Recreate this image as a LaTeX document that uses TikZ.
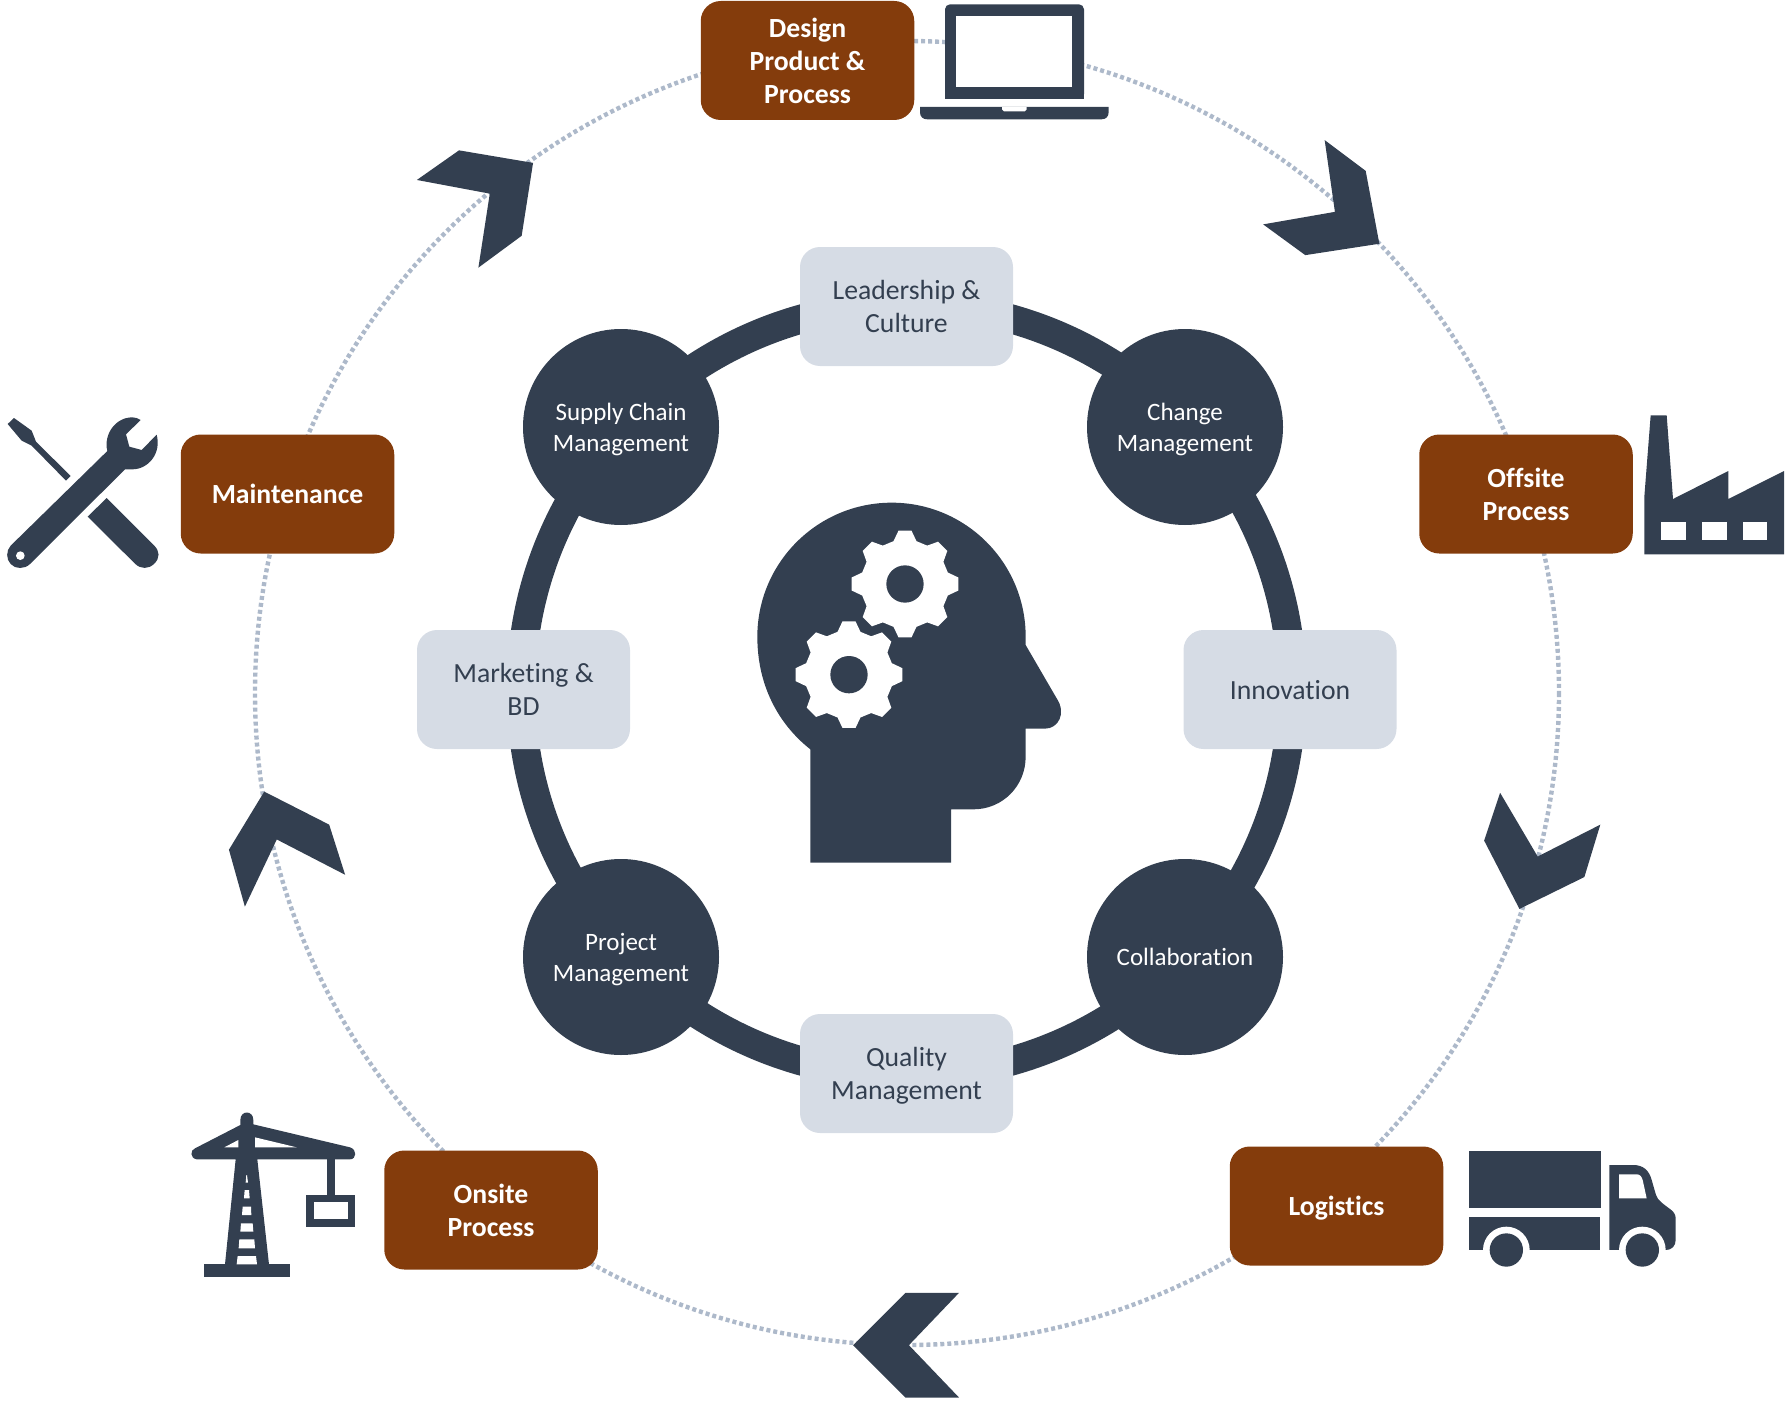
\documentclass[tikz,border=0pt]{standalone}
\usepackage{fontspec}
\setmainfont[Ligatures=NoCommon]{Carlito}
\newcommand{\ls}{\rule[-0.25em]{0pt}{1.19em}}
\definecolor{navy}{HTML}{333F50}
\definecolor{pale}{HTML}{D6DCE5}
\definecolor{dots}{HTML}{ADB9CA}
\definecolor{rust}{HTML}{843C0C}
\tikzset{
  stagebox/.style={draw=none,fill=rust,text=white,rounded corners=20pt,minimum width=213.5pt,minimum height=119pt,inner sep=0pt,align=center,font=\fontsize{27.7}{33}\selectfont\bfseries},
  palebox/.style={draw=none,fill=pale,text=navy,rounded corners=20pt,minimum width=213pt,minimum height=119pt,inner sep=0pt,align=center,font=\fontsize{27.7}{33}\selectfont},
  disc/.style={circle,draw=none,fill=navy,text=white,minimum size=196pt,inner sep=0pt,align=center,font=\fontsize{25}{29.5}\selectfont},
  dotring/.style={draw=dots,line width=4.4pt,dash pattern=on 4pt off 3pt},
  solidring/.style={draw=navy,line width=29pt},
  chevron/.style={fill=navy},
  icon/.style={fill=navy},
  hole/.style={fill=white},
  zoomed/.style={x=0.33333pt,y=-0.33333pt},
  reduced/.style={x=1.139pt,y=-1.139pt},
  gearpic/.pic={
    \fill[hole] (-15:133) \foreach \k in {0,45,...,315}{ -- (\k-15:133) -- (\k-7:161) -- (\k+7:161) -- (\k+15:133)} -- cycle;
    \fill[icon] (0,0) circle (56);
  }
}
\begin{document}
\begin{tikzpicture}[x=1pt,y=-1pt]
\useasboundingbox (0,0) rectangle (1786,1402);
\coordinate (outerc) at (907,693);
\coordinate (innerc) at (906.5,690);
% rings
\draw[dotring] (outerc) circle (652);
\draw[solidring] (innerc) circle (385.5);
% chevrons
\begin{scope}[reduced]
\fill[chevron] (1163,123) -- (1199,150) -- (1211,214) -- (1146,224) -- (1109,197) -- (1172,186) -- cycle;
\fill[chevron] (1317,696) -- (1350,752) -- (1405,724) -- (1391,770) -- (1334,798) -- (1303,738) -- cycle;
\fill[chevron] (842,1135) -- (798,1181) -- (842,1227) -- (795,1227) -- (749,1181) -- (795,1135) -- cycle;
\fill[chevron] (201,746) -- (232,695) -- (289,724) -- (303,768) -- (243,737) -- (215,796) -- cycle;
\fill[chevron] (366,158) -- (403,132) -- (468,143) -- (458,207) -- (420,235) -- (430,170) -- cycle;
\end{scope}
% stage boxes
\node[stagebox] (design) at (807.5,60.5) {\ls Design\\\ls Product \&\\\ls Process};
\node[stagebox] (offsite) at (1526,494) {\ls Offsite\\\ls Process};
\node[stagebox] (logistics) at (1336.5,1206) {\ls Logistics};
\node[stagebox] (onsite) at (491,1210) {\ls Onsite\\\ls Process};
\node[stagebox] (maint) at (287.5,494) {\ls Maintenance};
% discs
\node[disc] (supply) at (621,427) {\ls Supply Chain\\\ls Management};
\node[disc] (change) at (1185,427) {\ls Change\\\ls Management};
\node[disc] (project) at (621,957) {\ls Project\\\ls Management};
\node[disc] (collab) at (1185,957) {\ls Collaboration};
% pale boxes
\node[palebox] (lead) at (906.5,306.5) {\ls Leadership \&\\\ls Culture};
\node[palebox] (market) at (523.5,689.5) {\ls Marketing \&\\\ls BD};
\node[palebox] (innov) at (1290,689.5) {\ls Innovation};
\node[palebox] (quality) at (906.5,1073.5) {\ls Quality\\\ls Management};
% head
\begin{scope}[shift={(740,480)},zoomed]
\fill[icon] (211,1148) -- (211,808) .. controls (110,728) and (52,610) .. (52,470)
  .. controls (52,248) and (233,68) .. (455,68) .. controls (677,68) and (857,248) .. (857,470) -- (857,495)
  -- (950,655) .. controls (980,700) and (955,746) .. (915,746) -- (857,746) -- (857,830)
  .. controls (857,918) and (788,988) .. (700,988) -- (633,988) -- (633,1148) -- cycle;
\pic at (495,312) {gearpic};
\pic at (327,584) {gearpic};
\end{scope}
% laptop
\begin{scope}[shift={(680,0)},zoomed]
\fill[icon,rounded corners=5pt] (795,297) -- (795,13) -- (1212,13) -- (1212,297) -- cycle;
\fill[icon] (795,200) rectangle (1212,297);
\fill[hole] (828,48) rectangle (1175,261);
\fill[icon] (720,321) -- (1286,321) -- (1286,336) .. controls (1286,350) and (1278,358) .. (1264,358) -- (742,358) .. controls (728,358) and (720,350) .. (720,336) -- cycle;
\fill[hole] (966,321) -- (1040,321) -- (1040,328) -- (1034,334) -- (972,334) -- (966,328) -- cycle;
\end{scope}
% tools
\begin{scope}[shift={(0,400)},zoomed]
\fill[icon] (23,72) -- (42,54) -- (95,92) -- (108,125) -- (212,228) -- (198,242) -- (95,137) -- (65,122) -- cycle;
\fill[icon] (320,294) -- (462,436) .. controls (480,454) and (480,474) .. (463,491) .. controls (446,508) and (422,508) .. (405,491) -- (263,350) -- cycle;
\fill[icon] (322,153) .. controls (310,105) and (345,52) .. (397,52) .. controls (405,52) and (415,55) .. (422,60) -- (378,103) -- (388,140) -- (425,150) -- (470,104) .. controls (485,160) and (445,208) .. (397,208) -- (375,208) -- (90,492) .. controls (74,508) and (46,508) .. (32,492) .. controls (18,478) and (18,452) .. (32,437) -- cycle;
\fill[hole] (61,467) circle (13);
\end{scope}
% crane
\begin{scope}[shift={(170,1090)},zoomed]
\fill[icon] (101,523) rectangle (360,560);
\fill[icon] (165,523) -- (197,208) -- (80,208) .. controls (60,205) and (60,180) .. (75,175) -- (211,105) -- (211,90) .. controls (211,60) and (250,60) .. (250,90) -- (250,103) -- (540,172) .. controls (562,178) and (560,208) .. (540,208) -- (262,208) -- (297,523) -- cycle;
\fill[hole] (205,150) -- (205,172) -- (163,172) -- cycle;
\fill[hole] (255,142) -- (255,172) -- (380,172) -- cycle;
\fill[hole] (203,498) -- (258,498) -- (261,523) -- (200,523) -- cycle;
\fill[hole] (208,448) -- (253,448) -- (255,475) -- (206,475) -- cycle;
\fill[hole] (213,400) -- (248,400) -- (250,425) -- (211,425) -- cycle;
\fill[hole] (218,350) -- (243,350) -- (244,375) -- (216,375) -- cycle;
\fill[hole] (224,300) -- (237,300) -- (239,325) -- (222,325) -- cycle;
\fill[hole] (229,255) -- (231,255) -- (234,278) -- (227,278) -- cycle;
\fill[icon] (472,208) rectangle (495,315);
\fill[icon] (408,315) rectangle (555,411);
\fill[hole] (432,337) rectangle (533,388);
\end{scope}
% truck
\begin{scope}[shift={(1450,1130)},zoomed]
\fill[icon] (57,63) rectangle (453,234);
\fill[icon] (57,261) rectangle (450,360);
\fill[icon] (478,105) -- (550,105) .. controls (580,105) and (598,122) .. (605,150) -- (618,195) .. controls (622,210) and (640,222) .. (660,237) .. controls (672,245) and (677,255) .. (677,265) -- (677,330) .. controls (677,348) and (665,360) .. (648,360) -- (478,360) -- cycle;
\fill[hole] (507,133) -- (560,133) .. controls (570,133) and (575,140) .. (578,150) -- (590,205) -- (507,205) -- cycle;
\fill[hole] (169,360) circle (70);
\fill[hole] (577,360) circle (70);
\fill[hole] (57,360) rectangle (677,420);
\fill[icon] (169,360) circle (50);
\fill[icon] (577,360) circle (50);
\end{scope}
% factory
\begin{scope}[shift={(1630,400)},zoomed]
\fill[icon] (43,463) -- (43,290) -- (62,46) -- (110,46) -- (129,297) -- (295,213) -- (295,297) -- (462,213) -- (462,463) -- cycle;
\fill[hole] (92,365) rectangle (167,421);
\fill[hole] (215,365) rectangle (290,421);
\fill[hole] (338,365) rectangle (412,421);
\end{scope}
\end{tikzpicture}
\end{document}
